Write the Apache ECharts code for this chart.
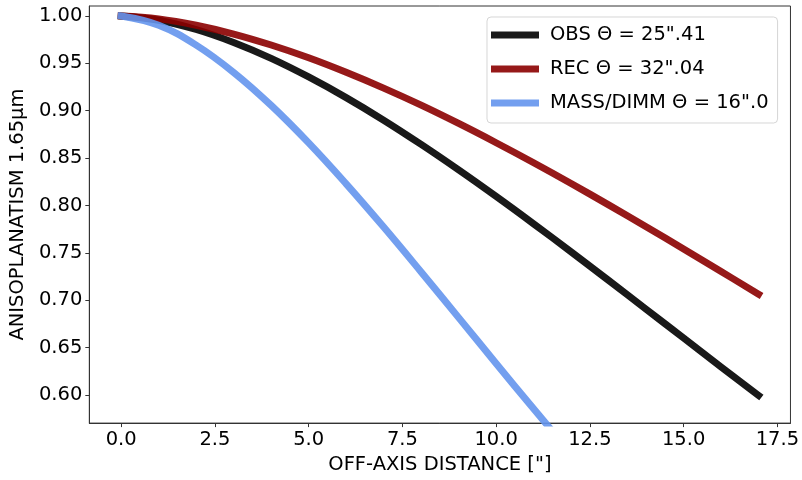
<!DOCTYPE html>
<html>
<head>
<meta charset="utf-8">
<script src="https://cdn.jsdelivr.net/npm/echarts@6/dist/echarts.min.js"></script>
<style>html,body{margin:0;padding:0;background:#fff}#c{width:802px;height:480px}</style>
</head>
<body>
<div id="c"></div>
<script>
// Off-axis distance (arcsec)
var xs = [0,1,2,3,4,5,6,7,8,9,10,11,12,13,14,15,16,17];
var obs = [1.000,0.9955,0.9857,0.9720,0.9552,0.9356,0.9138,0.8900,0.8644,0.8375,0.8095,0.7806,0.7510,0.7209,0.6905,0.6601,0.6296,0.5995];
var rec = [1.000,0.9969,0.9902,0.9809,0.9693,0.9558,0.9405,0.9238,0.9058,0.8865,0.8662,0.8451,0.8232,0.8006,0.7775,0.7541,0.7303,0.7063];
var mass = [1.000,0.9902,0.9692,0.9404,0.9056,0.8660,0.8228,0.7772,0.7298,0.6816,0.6332,0.5854,0.5384,0.4929,0.4491,0.4074,0.3679,0.3308];
var names = ['OBS \u0398 = 25".41', 'REC \u0398 = 32".04', 'MASS/DIMM \u0398 = 16".0'];
var xTicks = [0,2.5,5,7.5,10,12.5,15,17.5];
var yTicks = [0.60,0.65,0.70,0.75,0.80,0.85,0.90,0.95,1.00];

function pairs(v){ return xs.map(function(x,i){ return [x, v[i]]; }); }
var colors = ['rgba(0,0,0,0.9)','rgba(139,0,0,0.9)','rgba(100,149,237,0.9)'];
var FS = 19.5, FONT = 'DejaVu Sans';
var chart = echarts.init(document.getElementById('c'));
chart.setOption({
  animation: false,
  textStyle: {fontFamily: FONT},
  grid: {left: 87, top: 6, right: 10, bottom: 53, show: true, borderColor: '#333', borderWidth: 1},
  legend: {
    orient: 'vertical', left: 487, top: 17,
    icon: 'rect', itemWidth: 48, itemHeight: 7, itemGap: 14,
    padding: [8, 9, 10, 4],
    borderColor: 'rgba(204,204,204,0.8)', borderWidth: 1, borderRadius: 4,
    backgroundColor: 'rgba(255,255,255,0.8)',
    textStyle: {fontFamily: FONT, fontSize: FS, color: '#000', padding: [0,0,0,6]},
    data: names
  },
  xAxis: {
    type: 'value', min: -0.85, max: 17.85,
    name: 'OFF-AXIS DISTANCE ["]', nameLocation: 'middle', nameGap: 31,
    nameTextStyle: {fontFamily: FONT, fontSize: FS, color: '#000'},
    axisLine: {onZero: false, lineStyle: {color: '#333'}},
    axisTick: {show: true, customValues: xTicks, length: 4, lineStyle: {color: '#333'}},
    axisLabel: {customValues: xTicks, fontFamily: FONT, fontSize: FS, color: '#000', margin: 7,
      formatter: function(v){ return v.toFixed(1); }},
    splitLine: {show: false}
  },
  yAxis: {
    type: 'value', min: 0.5703, max: 1.0105,
    name: 'ANISOPLANATISM 1.65\u03bcm', nameLocation: 'middle', nameGap: 60,
    nameTextStyle: {fontFamily: FONT, fontSize: FS, color: '#000'},
    axisLine: {show: true, onZero: false, lineStyle: {color: '#333'}},
    axisTick: {show: true, customValues: yTicks, length: 4, lineStyle: {color: '#333'}},
    axisLabel: {customValues: yTicks, fontFamily: FONT, fontSize: FS, color: '#000', margin: 7,
      formatter: function(v){ return v.toFixed(2); }},
    splitLine: {show: false}
  },
  series: [obs, rec, mass].map(function(v, i){
    return {
      name: names[i], type: 'line', data: pairs(v), smooth: 0.4, showSymbol: false, symbol: 'none',
      clip: true, color: colors[i],
      itemStyle: {color: colors[i]},
      lineStyle: {width: 7, color: colors[i], cap: 'square', join: 'round'}
    };
  })
});
</script>
</body>
</html>
